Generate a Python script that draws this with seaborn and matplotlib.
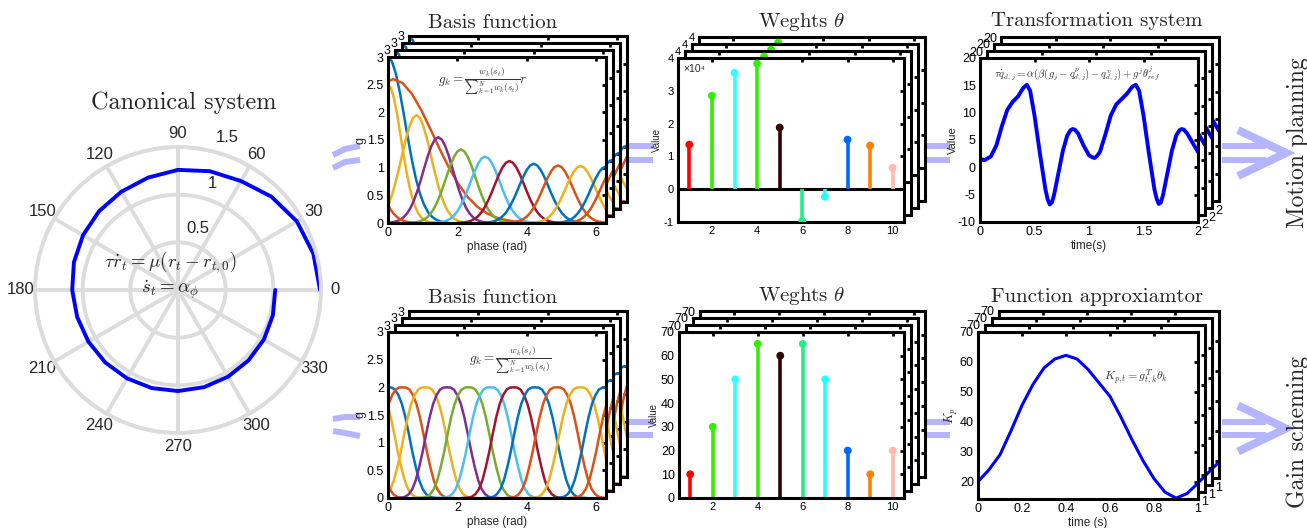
import numpy as np
import pandas as pd
import matplotlib
matplotlib.use('Agg')
import matplotlib.pyplot as plt
import seaborn as sns
from matplotlib.patches import Rectangle
from matplotlib.ticker import FormatStrFormatter, FuncFormatter

# ── data ─────────────────────────────────────────────────────────────
# canonical system spiral (angle in degrees, radius)
spiral_deg = [0, 15, 30, 45, 60, 75, 90, 105, 120, 135, 150, 165, 180, 195, 210, 225,
              240, 255, 270, 285, 300, 315, 330, 345, 360]
spiral_r = [1.49, 1.47, 1.44, 1.385, 1.32, 1.29, 1.26, 1.22, 1.19, 1.17, 1.15, 1.13, 1.11,
            1.095, 1.085, 1.077, 1.07, 1.065, 1.06, 1.055, 1.05, 1.045, 1.04, 1.03, 1.02]
r_ticks = [0.5, 1.0, 1.5]
r_tick_labels = ['0.5', '1', '1.5']

# shape of one basis bump, sampled at distances from its centre (rad)
bump_d = [0.0, 0.1, 0.2, 0.3, 0.4, 0.5, 0.6, 0.7, 0.8, 0.9, 1.0, 1.1, 1.2, 1.3, 1.4, 1.5]
bump_round = [1.0, 0.973, 0.897, 0.784, 0.649, 0.509, 0.378, 0.266, 0.177, 0.112,
              0.067, 0.038, 0.021, 0.010, 0.005, 0.002]
bump_flat = [1.0, 0.998, 0.98, 0.93, 0.85, 0.73, 0.58, 0.42, 0.28, 0.16,
             0.08, 0.035, 0.012, 0.004, 0.001, 0.0]

# motion planning basis functions (scaled by decaying r)
basis_top_centre = [0.0, 0.15, 0.0, 0.82, 1.45, 2.1, 2.8, 3.5, 4.2, 4.9, 5.55, 6.28, 6.55, -0.65]
basis_top_peak = [3.0, 2.6, 2.5, 1.95, 1.55, 1.33, 1.2, 1.12, 1.07, 1.04, 1.03, 1.02, 1.0, 1.0]
basis_top_width = [1.15, 2.7, 0.88, 1.0, 1.0, 1.0, 1.0, 1.0, 1.0, 1.0, 1.0, 1.0, 1.0, 1.0]
basis_top_colour = ['blue', 'orange', 'yellow', 'yellow', 'purple', 'green', 'lblue', 'dred',
                    'blue', 'orange', 'yellow', 'blue', 'orange', 'orange']

# gain scheming basis functions
basis_bot_centre = [0.0, 0.42, -0.42, 1.07, -0.95, 1.7, 2.32, 2.95, 3.62, 4.24, 4.87, 5.54, 6.28, 6.7]
basis_bot_peak = [2.0] * 14
basis_bot_width = [1.0] * 14
basis_bot_colour = ['blue', 'orange', 'yellow', 'yellow', 'orange', 'purple', 'green', 'lblue',
                    'dred', 'blue', 'orange', 'yellow', 'blue', 'orange']

# weights
weight_idx = [1, 2, 3, 4, 5, 6, 7, 8, 9, 10]
weights_motion = [1.36, 2.85, 3.55, 3.83, 1.88, -0.97, -0.23, 1.51, 1.33, 0.65]  # x 10^4
weights_gain = [10, 30, 50, 65, 60, 65, 50, 20, 10, 20]
weight_colour = ['#ff0000', '#33ee00', '#33ffff', '#33ee00', '#330000',
                 '#22ee88', '#22ffff', '#0066ff', '#ff8000', '#ffbba8']

# transformation system output
traj_t = [0, 0.04, 0.1, 0.15, 0.2, 0.25, 0.3, 0.35, 0.38, 0.4, 0.43, 0.46, 0.5, 0.55, 0.6,
          0.62, 0.64, 0.66, 0.68, 0.72, 0.76, 0.8, 0.83, 0.85, 0.87, 0.9, 0.95, 1.0, 1.03,
          1.05, 1.07, 1.1, 1.15, 1.2, 1.25, 1.3, 1.35, 1.38, 1.4, 1.43, 1.46, 1.5, 1.55, 1.6,
          1.62, 1.64, 1.66, 1.68, 1.72, 1.76, 1.8, 1.83, 1.85, 1.87, 1.9, 1.95, 2.0]
traj_q = [1.6, 1.3, 2.0, 4.0, 7.5, 10.5, 12.0, 13.0, 14.0, 14.6, 15.1, 14.0, 9.5, 2.5, -4.0,
          -5.8, -6.8, -6.4, -5.0, -1.0, 3.0, 5.8, 6.8, 7.0, 6.9, 6.2, 4.0, 2.2, 1.85,
          1.7, 2.0, 2.8, 6.0, 9.5, 11.5, 12.5, 13.5, 14.3, 14.8, 15.1, 14.0, 9.5, 2.5, -4.0,
          -5.7, -6.7, -6.4, -5.0, -1.0, 3.0, 5.8, 6.8, 7.0, 6.9, 6.2, 4.5, 2.8]

# function approximator output
kp_t = [0, 0.05, 0.1, 0.15, 0.2, 0.25, 0.3, 0.35, 0.4, 0.45, 0.5, 0.55, 0.6, 0.65, 0.7,
        0.75, 0.8, 0.85, 0.9, 0.95, 1.0]
kp_val = [20, 24, 29, 37, 45.5, 52.5, 58, 61, 62.2, 61, 57.5, 53, 48.5, 41.5, 34,
          27, 21, 16.5, 14.5, 16, 19.5]

ML = {'blue': '#0072BD', 'orange': '#D95319', 'yellow': '#EDB120', 'purple': '#7E2F8E',
      'green': '#77AC30', 'lblue': '#4DBEEE', 'dred': '#A2142F'}
ARROW = '#b4b4ff'

sns.set_theme(style='white')
plt.rcParams['font.family'] = ['Liberation Sans', 'DejaVu Sans']
plt.rcParams['mathtext.fontset'] = 'cm'
plt.rcParams['axes.unicode_minus'] = False

W, H = 1307, 528
fig = plt.figure(figsize=(W / 100, H / 100), dpi=100)


def px_box(x0, y0, x1, y1):
    return [x0 / W, 1 - y1 / H, (x1 - x0) / W, (y1 - y0) / H]


# background layer for the light blue arrows
bg = fig.add_axes([0, 0, 1, 1], zorder=-5)
bg.set_xlim(0, W)
bg.set_ylim(H, 0)
bg.axis('off')


def bars(x0, x1, ys, lw=4.3):
    for y in ys:
        bg.plot([x0, x1], [y, y], color=ARROW, lw=lw, solid_capstyle='butt')


# ── Canonical system (polar) ─────────────────────────────────────────
axp = fig.add_axes(px_box(35, 147, 321, 433), projection='polar')
sns.lineplot(x=np.deg2rad(spiral_deg), y=spiral_r, color='#0000ff', linewidth=2.8, ax=axp)
axp.set_ylim(0, 1.5)
axp.set_yticks(r_ticks)
axp.set_yticklabels([])
for r, s in zip(r_ticks, r_tick_labels):
    axp.text(np.deg2rad(72), r + 0.18, s, ha='center', va='center', fontsize=12)
axp.set_xticks(np.deg2rad(np.arange(0, 360, 30)))
axp.set_xticklabels([str(d) for d in range(0, 360, 30)])
axp.grid(True, color='#dcdcdc', linewidth=2.8)
axp.spines['polar'].set_color('#dcdcdc')
axp.spines['polar'].set_linewidth(2.8)
axp.set_axisbelow(True)
axp.tick_params(labelsize=12)
axp.tick_params(axis='x', pad=-3)
axp.set_xlabel('')
axp.set_ylabel('')
axp.text(0.472, 0.598, r'$\tau\dot{r}_t=\mu(r_t-r_{t,0})$', transform=axp.transAxes,
         ha='center', va='center', fontsize=13.5, color='#222222')
axp.text(0.472, 0.5, r'$\dot{s}_t=\alpha_\phi$', transform=axp.transAxes,
         ha='center', va='center', fontsize=13.5, color='#222222')
fig.text(184 / W, 1 - 103 / H, 'Canonical system', fontfamily='cmr10', fontsize=17.5,
         ha='center', va='center')

# ── stacked MATLAB-like panels ───────────────────────────────────────
STEP = 7


def stacked(x0, y0, x1, y1, layers=4):
    axs = []
    for i in reversed(range(layers)):
        ax = fig.add_axes(px_box(x0 + STEP * i, y0 - STEP * i, x1 + STEP * i, y1 - STEP * i),
                          zorder=10 - i)
        axs.append((ax, x1 - x0, y1 - y0, i == 0))
    return axs


def frame(ax, wpx, hpx, front, xlim, ylim, xticks, yticks, xsize=9, ysize=9):
    ax.set_xlim(xlim)
    ax.set_ylim(ylim)
    ax.set_xticks(xticks)
    ax.set_yticks(yticks)
    if front:
        ax.xaxis.set_major_formatter(FormatStrFormatter('%g'))
        ax.yaxis.set_major_formatter(FormatStrFormatter('%g'))
    else:
        # copies behind: only the labels that stick out of the front copy
        ax.xaxis.set_major_formatter(FuncFormatter(
            lambda v, p: '%g' % v if abs(v - xlim[1]) < 1e-9 else ''))
        ax.yaxis.set_major_formatter(FuncFormatter(
            lambda v, p: '%g' % v if abs(v - ylim[1]) < 1e-9 else ''))
    ax.tick_params(direction='in', length=3, width=2, top=True, right=True, pad=3,
                   colors='black')
    ax.tick_params(axis='x', labelsize=xsize)
    ax.tick_params(axis='y', labelsize=ysize)
    for s in ax.spines.values():
        s.set_linewidth(2.2)
        s.set_color('black')
    ax.set_xlabel('')
    ax.set_ylabel('')
    # white card behind the tick labels, as in the pasted figure copies
    l, b = -16 / wpx, -17 / hpx
    ax.add_patch(Rectangle((l, b), 1 - l, 1 - b, transform=ax.transAxes, facecolor='white',
                           edgecolor='none', clip_on=False, zorder=0.5))


def draw_basis(ax, centres, peaks, widths, colours, half):
    offs = [-d for d in bump_d[:0:-1]] + bump_d
    prof = half[:0:-1] + half
    rows = []
    for k in range(len(centres)):
        for o, v in zip(offs, prof):
            rows.append(('b%d' % k, centres[k] + widths[k] * o, peaks[k] * v))
    df = pd.DataFrame(rows, columns=['curve', 'phase', 'g'])
    pal = {'b%d' % k: ML[c] for k, c in enumerate(colours)}
    sns.lineplot(data=df, x='phase', y='g', hue='curve', palette=pal, estimator=None,
                 sort=False, legend=False, linewidth=1.8, ax=ax)


def draw_stems(ax, vals):
    ax.vlines(weight_idx, 0, vals, colors=weight_colour, lw=2.6, zorder=2)
    names = ['w%d' % i for i in weight_idx]
    sns.scatterplot(x=weight_idx, y=vals, hue=names, palette=dict(zip(names, weight_colour)),
                    s=32, edgecolor='none', legend=False, ax=ax, zorder=3)


def title(x, y, s):
    fig.text(x / W, 1 - y / H, s, fontfamily='cmr10', fontsize=15, ha='center', va='center')


basis_ticks = [0, 0.5, 1, 1.5, 2, 2.5, 3]
eq_c = '#333333'

# Basis function (motion planning)
for ax, w, h, front in stacked(388, 57, 606, 223):
    draw_basis(ax, basis_top_centre, basis_top_peak, basis_top_width, basis_top_colour, bump_round)
    frame(ax, w, h, front, (0, 2 * np.pi), (0, 3), [0, 2, 4, 6], basis_ticks)
ax.set_xlabel('phase (rad)', fontsize=8.5, labelpad=1)
ax.set_ylabel('g', fontsize=9, labelpad=0)
ax.text(0.436, 0.85, r'$g_k=\frac{w_k(s_t)}{{\sum}_{k=1}^{N}w_k(s_t)}r$', transform=ax.transAxes,
        ha='center', va='center', fontsize=9.5, color=eq_c)
title(493, 23, 'Basis function')

# Basis function (gain scheming)
for ax, w, h, front in stacked(388, 332, 606, 498):
    draw_basis(ax, basis_bot_centre, basis_bot_peak, basis_bot_width, basis_bot_colour, bump_flat)
    frame(ax, w, h, front, (0, 2 * np.pi), (0, 3), [0, 2, 4, 6], basis_ticks)
ax.set_xlabel('phase (rad)', fontsize=8.5, labelpad=1)
ax.set_ylabel('g', fontsize=9, labelpad=0)
ax.text(0.56, 0.83, r'$g_k=\frac{w_k(s_t)}{{\sum}_{k=1}^{N}w_k(s_t)}$', transform=ax.transAxes,
        ha='center', va='center', fontsize=9.5, color=eq_c)
title(493, 298, 'Basis function')

# Weights (motion planning)
for ax, w, h, front in stacked(678, 58, 904, 222):
    ax.axhline(0, color='black', lw=2.2, zorder=2)
    draw_stems(ax, weights_motion)
    frame(ax, w, h, front, (0.5, 10.5), (-1, 4), [2, 4, 6, 8, 10], [-1, 0, 1, 2, 3, 4],
          xsize=8, ysize=8)
ax.set_ylabel('Value', fontsize=7, labelpad=1)
ax.text(0.025, 0.93, '×10⁴', transform=ax.transAxes, ha='left', va='center', fontsize=7.5)
title(802, 22, r'Weghts $\theta$')

# Weights (gain scheming)
for ax, w, h, front in stacked(679, 332, 904, 498):
    draw_stems(ax, weights_gain)
    frame(ax, w, h, front, (0.5, 10.5), (0, 70), [2, 4, 6, 8, 10], list(range(0, 71, 10)),
          xsize=8, ysize=9)
ax.set_ylabel('Value', fontsize=7, labelpad=1)
title(802, 296, r'Weghts $\theta$')

# Transformation system
for ax, w, h, front in stacked(980, 58, 1198, 222):
    sns.lineplot(x=traj_t, y=traj_q, color='#0000ff', linewidth=2.8, ax=ax)
    frame(ax, w, h, front, (0, 2), (-10, 20), [0, 0.5, 1, 1.5, 2], list(range(-10, 21, 5)))
ax.set_xlabel('time(s)', fontsize=8.5, labelpad=1)
ax.set_ylabel('Value', fontsize=8, labelpad=0)
ax.text(0.445, 0.905, r'$\tau\dot{q}_{d,j}=\alpha(\beta(g_j-q^p_{d,j})-q^v_{d,j})+g^j\theta^j_{ref}$',
        transform=ax.transAxes, ha='center', va='center', fontsize=7.7, color=eq_c)
title(1097, 21, 'Transformation system')

# Function approximator
for ax, w, h, front in stacked(978, 332, 1198, 499):
    sns.lineplot(x=kp_t, y=kp_val, color='#0000ff', linewidth=2.2, ax=ax)
    frame(ax, w, h, front, (0, 1), (14.2, 70), [0, 0.2, 0.4, 0.6, 0.8, 1], list(range(20, 71, 10)))
ax.set_xlabel('time (s)', fontsize=8.5, labelpad=1)
ax.set_ylabel(r'$K_p$', fontsize=9, labelpad=0)
ax.text(0.72, 0.73, r'$K_{p,t}=g_{t,k}^T\theta_k$', transform=ax.transAxes,
        ha='center', va='center', fontsize=8.5, color=eq_c)
title(1097, 297, 'Function approxiamtor')

# ── arrows between the stages ────────────────────────────────────────
# from the canonical system (curved tails)
bg.plot([333, 345, 360], [155, 149, 146], color=ARROW, lw=4.3, solid_capstyle='butt')
bg.plot([333, 345, 360], [168, 162, 160], color=ARROW, lw=4.3, solid_capstyle='butt')
bg.plot([333, 345, 360], [419, 417, 417], color=ARROW, lw=4.3, solid_capstyle='butt')
bg.plot([333, 345, 360], [431, 433, 436], color=ARROW, lw=4.3, solid_capstyle='butt')
bars(628, 653, [146, 160])
bars(925, 950, [146, 160])
bars(628, 653, [422, 435])
bars(925, 950, [422, 435])
# output arrows
for yc, gap in [(153, 14), (428.5, 13)]:
    bars(1222, 1266, [yc - gap / 2, yc + gap / 2])
    bg.plot([1238, 1286, 1238], [yc - 23, yc, yc + 23], color=ARROW, lw=5.8,
            solid_joinstyle='miter', solid_capstyle='butt')

fig.text(1298 / W, 1 - 143 / H, 'Motion planning', fontfamily='cmr10', fontsize=17,
         rotation=90, ha='center', va='center')
fig.text(1298 / W, 1 - 432 / H, 'Gain scheming', fontfamily='cmr10', fontsize=17,
         rotation=90, ha='center', va='center')

fig.savefig('out.png', dpi=100, facecolor='white')
